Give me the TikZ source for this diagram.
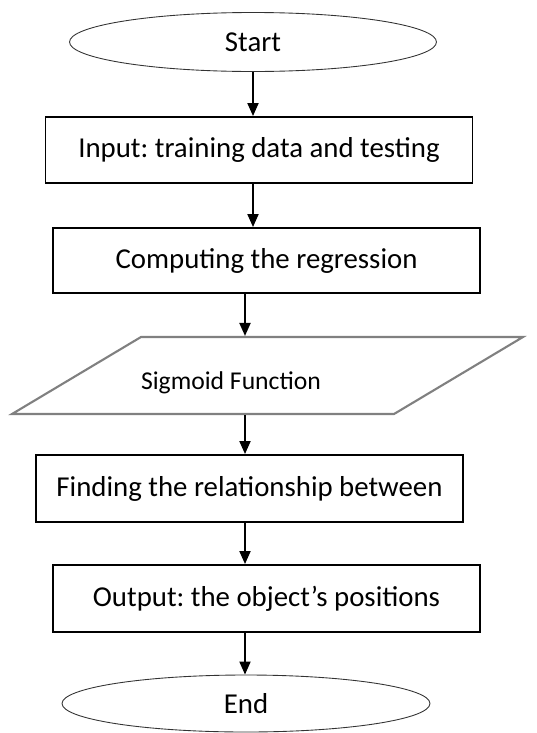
\documentclass[tikz,border=0pt]{standalone}
\usepackage{fontspec}
\setmainfont{Carlito}
\usepackage{tikz}
\usetikzlibrary{positioning, shapes, shapes.geometric, arrows.meta, calc}
\frenchspacing

\begin{document}
\begin{tikzpicture}[
    terminal/.style={ellipse, draw=black!80, line width=0.5pt, inner sep=0pt, font=\fontsize{16.4}{19}\selectfont},
    process/.style={rectangle, draw, line width=1.1pt, minimum width=8.54cm, inner sep=0pt, align=center, font=\fontsize{16.4}{19}\selectfont},
    io/.style={rectangle, draw=gray, line width=1.2pt, xslant=1.675, transform shape, minimum width=7.64cm, minimum height=1.54cm, inner sep=0pt},
    arrow/.style={-{Triangle[length=2.6mm, width=2.2mm]}, line width=1.1pt}
]
    \useasboundingbox (0,0) rectangle (10.74,-14.66);

    \node[terminal, minimum width=7.34cm, minimum height=1.18cm] (start) at (5.06, -0.84) {Start};
    \node[process, minimum height=1.32cm] (input) at (5.18, -3.00) {Input: training data and testing};
    \node[process, minimum height=1.30cm] (comp) at (5.33, -5.21) {Computing the regression};
    \node[io] (sig) at (5.35, -7.51) {};
    \node[font=\fontsize{14.6}{17}\selectfont] (sigtxt) at (4.62, -7.66) {Sigmoid Function};
    \node[process, minimum height=1.34cm] (find) at (4.99, -9.77) {Finding the relationship between};
    \node[process, minimum height=1.34cm] (out) at (5.33, -11.97) {Output: the object's positions};
    \node[terminal, minimum width=7.36cm, minimum height=1.14cm] (end) at (4.92, -14.07) {End};

    % vertical lines of the arrows
    \coordinate (axisA) at (5.06, 0);
    \coordinate (axisB) at (4.90, 0);

    \draw[arrow] (start.south -| axisA) -- (input.north -| axisA);
    \draw[arrow] (input.south -| axisA) -- (comp.north -| axisA);
    \draw[arrow] (comp.south -| axisB) -- (sig.north -| axisB);
    \draw[arrow] (sig.south -| axisB) -- (find.north -| axisB);
    \draw[arrow] (find.south -| axisB) -- (out.north -| axisB);
    \draw[arrow] (out.south -| axisB) -- (end.north -| axisB);
\end{tikzpicture}
\end{document}
